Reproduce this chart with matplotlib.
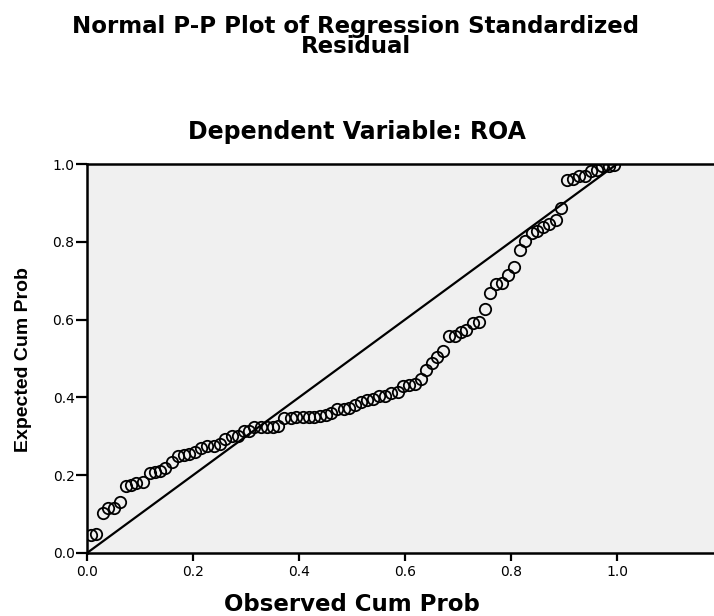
import matplotlib
matplotlib.use("Agg")
import matplotlib.pyplot as plt

# Observed cumulative probability (x) and expected cumulative probability (y)
observed_cum_prob = [
    0.008, 0.017, 0.030, 0.040, 0.051, 0.062, 0.074, 0.083, 0.093, 0.106,
    0.118, 0.128, 0.138, 0.148, 0.161, 0.172, 0.183, 0.193, 0.204, 0.216,
    0.227, 0.239, 0.250, 0.261, 0.273, 0.284, 0.296, 0.306, 0.316, 0.328,
    0.339, 0.350, 0.361, 0.372, 0.384, 0.395, 0.407, 0.418, 0.428, 0.439,
    0.450, 0.461, 0.472, 0.484, 0.494, 0.506, 0.517, 0.528, 0.540, 0.550,
    0.563, 0.573, 0.586, 0.596, 0.607, 0.618, 0.630, 0.640, 0.651, 0.661,
    0.672, 0.683, 0.694, 0.705, 0.716, 0.728, 0.739, 0.750, 0.761, 0.772,
    0.783, 0.794, 0.805, 0.817, 0.827, 0.839, 0.849, 0.861, 0.872, 0.884,
    0.894, 0.906, 0.917, 0.928, 0.940, 0.951, 0.962, 0.972, 0.984, 0.995,
]
expected_cum_prob = [
    0.047, 0.050, 0.104, 0.116, 0.116, 0.130, 0.171, 0.176, 0.181, 0.182,
    0.205, 0.208, 0.212, 0.219, 0.233, 0.250, 0.252, 0.255, 0.259, 0.271,
    0.274, 0.276, 0.279, 0.293, 0.302, 0.302, 0.313, 0.314, 0.323, 0.323,
    0.323, 0.325, 0.327, 0.348, 0.348, 0.349, 0.349, 0.349, 0.350, 0.353,
    0.356, 0.360, 0.370, 0.370, 0.372, 0.380, 0.389, 0.394, 0.395, 0.404,
    0.404, 0.412, 0.415, 0.430, 0.432, 0.434, 0.448, 0.470, 0.489, 0.505,
    0.518, 0.559, 0.559, 0.569, 0.572, 0.591, 0.593, 0.628, 0.668, 0.691,
    0.694, 0.715, 0.736, 0.779, 0.801, 0.822, 0.828, 0.839, 0.847, 0.856,
    0.887, 0.958, 0.962, 0.969, 0.970, 0.982, 0.985, 0.994, 0.996, 0.997,
]
ref_line = [0.0, 1.0]
x_ticks = [0.0, 0.2, 0.4, 0.6, 0.8, 1.0]
y_ticks = [0.0, 0.2, 0.4, 0.6, 0.8, 1.0]

W, H = 714, 616
fig = plt.figure(figsize=(W / 100, H / 100), dpi=100)
fig.patch.set_facecolor("white")

ax_left, ax_right, ax_top, ax_bottom = 87, 714, 164, 553
ax = fig.add_axes([ax_left / W, 1 - ax_bottom / H,
                   (ax_right - ax_left) / W, (ax_bottom - ax_top) / H])
ax.set_facecolor("#F0F0F0")

ax.plot(ref_line, ref_line, color="black", lw=1.6, zorder=2)
ax.plot(observed_cum_prob, expected_cum_prob, linestyle="none", marker="o",
        markersize=8.2, markerfacecolor="none", markeredgecolor="black",
        markeredgewidth=1.3, zorder=3)

ax.set_xlim(0, (ax_right - ax_left) / 530)
ax.set_ylim(0, 1.0)
ax.set_xticks(x_ticks)
ax.set_yticks(y_ticks)
ax.set_xticklabels([f"{v:.1f}" for v in x_ticks], family="DejaVu Sans", fontsize=10)
ax.set_yticklabels([f"{v:.1f}" for v in y_ticks], family="DejaVu Sans", fontsize=10)
ax.tick_params(axis="x", direction="out", length=6, width=1.6, pad=3, colors="black")
ax.tick_params(axis="y", direction="out", length=8, width=1.6, pad=1, colors="black")

for side in ["top", "left", "bottom"]:
    ax.spines[side].set_linewidth(1.8)
    ax.spines[side].set_color("black")
ax.spines["right"].set_visible(False)

# Titles and axis labels
fig.text(356 / W, 1 - 15 / H,
         "Normal P-P Plot of Regression Standardized\nResidual",
         ha="center", va="top", multialignment="center", linespacing=0.86,
         fontsize=16.5, fontweight="bold", family="DejaVu Sans")
fig.text(357 / W, 1 - 139 / H, "Dependent Variable: ROA",
         ha="center", va="baseline", fontsize=17, fontweight="bold",
         family="DejaVu Sans")
fig.text(352 / W, 1 - 611 / H, "Observed Cum Prob",
         ha="center", va="baseline", fontsize=16.5, fontweight="bold",
         family="DejaVu Sans")
fig.text(24 / W, 1 - 360 / H, "Expected Cum Prob", rotation=90,
         ha="center", va="center", fontsize=14, fontweight="bold",
         family="Liberation Sans")

fig.savefig("out.png", dpi=100)
